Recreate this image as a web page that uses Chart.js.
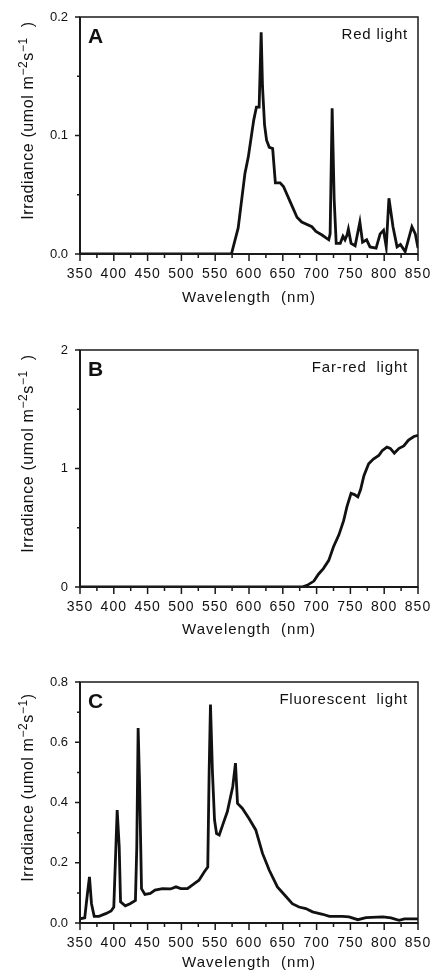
<!DOCTYPE html>
<html>
<head>
<meta charset="utf-8">
<script src="https://cdn.jsdelivr.net/npm/chart.js@4.4.0/dist/chart.umd.min.js"></script>
<style>
html, body { margin: 0; padding: 0; background: #fff; }
.panel { position: absolute; left: 0; width: 432px; }
</style>
</head>
<body>
<div class="panel" style="top:0;height:310px"><canvas id="chartA"></canvas></div>
<div class="panel" style="top:320px;height:320px"><canvas id="chartB"></canvas></div>
<div class="panel" style="top:640px;height:334px"><canvas id="chartC"></canvas></div>
<script>
// wavelength ticks (nm), shared by all three panels
const wlTicks = [350, 400, 450, 500, 550, 600, 650, 700, 750, 800, 850];

// A - red light
const redWl = [350, 574, 584, 594, 599, 607, 611, 615, 618, 620, 623, 626, 630, 635, 639, 646, 651, 661, 671, 678,
  693, 699, 708, 718, 720, 723, 726, 729, 735, 739, 742, 745, 747, 751, 757, 764, 768, 774, 779, 788,
  794, 799, 803, 807, 813, 819, 824, 831, 841, 846, 850];
const redIrr = [0, 0, 0.022, 0.068, 0.082, 0.113, 0.124, 0.124, 0.187, 0.141, 0.109, 0.096, 0.090, 0.089, 0.060, 0.060, 0.057, 0.044, 0.031, 0.027,
  0.023, 0.019, 0.016, 0.012, 0.017, 0.123, 0.046, 0.009, 0.009, 0.015, 0.012, 0.016, 0.021, 0.009, 0.007, 0.027, 0.010, 0.012, 0.006, 0.005,
  0.017, 0.020, 0.006, 0.047, 0.023, 0.006, 0.008, 0.002, 0.023, 0.017, 0.005];
const redTicks = [0, 0.1, 0.2];
const redLabels = ['0.0', '0.1', '0.2'];

// B - far-red light
const farWl = [350, 678, 686, 696, 703, 710, 718, 725, 733, 740, 745, 751, 756, 761, 765, 770, 777, 784, 792, 797,
  804, 809, 815, 822, 829, 836, 844, 850];
const farIrr = [0, 0, 0.014, 0.05, 0.11, 0.155, 0.225, 0.34, 0.44, 0.56, 0.68, 0.79, 0.78, 0.76, 0.82, 0.94, 1.04, 1.08, 1.11, 1.15,
  1.18, 1.17, 1.13, 1.17, 1.19, 1.24, 1.27, 1.28];
const farTicks = [0, 1, 2];
const farLabels = ['0', '1', '2'];

// C - fluorescent light
const fluWl = [350, 357, 361, 364, 367, 371, 378, 388, 396, 400, 405, 408, 410, 417, 424, 432, 434, 436, 438, 441,
  446, 454, 461, 472, 484, 492, 499, 509, 519, 526, 534, 539, 541, 543, 546, 549, 552, 556, 561, 568,
  576, 580, 583, 590, 600, 610, 620, 630, 642, 655, 664, 674, 684, 694, 709, 719, 738, 748, 761, 773,
  798, 810, 822, 830, 850];
const fluIrr = [0.014, 0.017, 0.098, 0.153, 0.064, 0.022, 0.022, 0.031, 0.040, 0.053, 0.375, 0.253, 0.070, 0.057, 0.064, 0.075, 0.253, 0.647, 0.475, 0.114,
  0.095, 0.098, 0.109, 0.114, 0.113, 0.120, 0.114, 0.114, 0.131, 0.142, 0.170, 0.186, 0.497, 0.725, 0.497, 0.342, 0.297, 0.292, 0.325, 0.370,
  0.453, 0.531, 0.397, 0.381, 0.347, 0.309, 0.231, 0.175, 0.120, 0.087, 0.064, 0.053, 0.048, 0.037, 0.029, 0.022, 0.022, 0.020, 0.011, 0.018,
  0.020, 0.017, 0.009, 0.014, 0.014];
const fluTicks = [0, 0.2, 0.4, 0.6, 0.8];
const fluLabels = ['0.0', '0.2', '0.4', '0.6', '0.8'];

const FONT = "'Liberation Sans', Arial, Helvetica, sans-serif";
const INK = '#111';

Chart.defaults.font.family = FONT;
Chart.defaults.color = INK;

// midpoints between major ticks, for the small unlabeled ticks
function halfSteps(arr) {
  const out = [];
  for (let i = 0; i < arr.length - 1; i++) out.push((arr[i] + arr[i + 1]) / 2);
  return out;
}

function drawYTitle(ctx, a, close) {
  const parts = [
    ['Irradiance (umol m', 16, 0],
    ['\u22122', 12, -6],
    ['s', 16, 0],
    ['\u22121', 12, -6],
    [close, 16, 0]
  ];
  ctx.save();
  ctx.letterSpacing = '0.6px';
  ctx.fillStyle = INK;
  ctx.translate(27, (a.top + a.bottom) / 2 - 15);
  ctx.rotate(-Math.PI / 2);
  let total = 0;
  parts.forEach(p => { ctx.font = p[1] + 'px ' + FONT; total += ctx.measureText(p[0]).width; });
  let x = -total / 2;
  ctx.textBaseline = 'alphabetic';
  parts.forEach(p => {
    ctx.font = p[1] + 'px ' + FONT;
    ctx.fillText(p[0], x, 6 + p[2]);
    x += ctx.measureText(p[0]).width;
  });
  ctx.restore();
}

// frame, outward ticks, panel letter, light label, y title
const decor = {
  id: 'decor',
  beforeDraw(chart) { chart.ctx.letterSpacing = '1px'; },
  afterDatasetsDraw(chart) { chart.ctx.letterSpacing = '0px'; },
  afterDraw(chart, args, o) {
    const { ctx, chartArea: a, scales: { x, y } } = chart;
    ctx.save();
    ctx.letterSpacing = '0px';
    ctx.strokeStyle = '#1a1a1a';
    ctx.lineWidth = 1.5;
    ctx.strokeRect(a.left, a.top, a.right - a.left, a.bottom - a.top);
    ctx.lineWidth = 2;
    ctx.beginPath();
    ctx.moveTo(a.left, a.top);
    ctx.lineTo(a.left, a.bottom);
    ctx.lineTo(a.right, a.bottom);
    ctx.stroke();

    ctx.lineWidth = 1.5;
    ctx.beginPath();
    wlTicks.forEach(v => {
      const px = x.getPixelForValue(v);
      ctx.moveTo(px, a.bottom);
      ctx.lineTo(px, a.bottom + 7);
    });
    halfSteps(wlTicks).forEach(v => {
      const px = x.getPixelForValue(v);
      ctx.moveTo(px, a.bottom);
      ctx.lineTo(px, a.bottom + 4);
    });
    o.yTicks.forEach(v => {
      const py = y.getPixelForValue(v);
      ctx.moveTo(a.left, py);
      ctx.lineTo(a.left - 5, py);
    });
    halfSteps(o.yTicks).forEach(v => {
      const py = y.getPixelForValue(v);
      ctx.moveTo(a.left, py);
      ctx.lineTo(a.left - 3, py);
    });
    ctx.stroke();

    ctx.fillStyle = INK;
    ctx.textBaseline = 'alphabetic';
    ctx.font = 'bold 21px ' + FONT;
    ctx.textAlign = 'left';
    ctx.fillText(o.letter, a.left + 8, a.top + 26);

    ctx.font = '15px ' + FONT;
    ctx.letterSpacing = '0.8px';
    ctx.textAlign = 'right';
    ctx.fillText(o.note, a.right - 10, a.top + 22);
    ctx.restore();

    drawYTitle(ctx, a, o.close);
  }
};

function makePanel(id, wl, irr, cfg) {
  const ctx = document.getElementById(id).getContext('2d');
  return new Chart(ctx, {
    type: 'line',
    data: {
      datasets: [{
        data: wl.map((w, i) => ({ x: w, y: irr[i] })),
        borderColor: INK,
        borderWidth: 2.8,
        pointRadius: 0,
        tension: 0,
        fill: false
      }]
    },
    options: {
      responsive: true,
      maintainAspectRatio: false,
      animation: false,
      layout: { padding: { top: cfg.top, right: 14, left: 0, bottom: 0 } },
      plugins: {
        legend: { display: false },
        tooltip: { enabled: false },
        decor: { letter: cfg.letter, note: cfg.note, close: cfg.close, yTicks: cfg.yTicks }
      },
      scales: {
        x: {
          type: 'linear',
          min: 350,
          max: 850,
          afterBuildTicks: s => { s.ticks = wlTicks.map(v => ({ value: v })); },
          afterFit: s => { s.height = cfg.xh; s.paddingLeft = 0; s.paddingRight = 0; },
          grid: { display: false, drawTicks: false },
          border: { display: false },
          ticks: { padding: 12, autoSkip: false, maxRotation: 0, font: { size: 14 } },
          title: { display: true, text: 'Wavelength  (nm)', font: { size: 15 }, padding: { top: 0, bottom: cfg.tb } }
        },
        y: {
          min: 0,
          max: cfg.yTicks[cfg.yTicks.length - 1],
          afterBuildTicks: s => { s.ticks = cfg.yTicks.map(v => ({ value: v })); },
          afterFit: s => { s.width = 80; s.paddingTop = 0; s.paddingBottom = 0; },
          grid: { display: false, drawTicks: false },
          border: { display: false },
          ticks: { padding: 12, z: 1, font: { size: 13 }, callback: (v, i) => cfg.yLabels[i] }
        }
      }
    },
    plugins: [decor]
  });
}

makePanel('chartA', redWl, redIrr, { top: 17, xh: 56, tb: 3, letter: 'A', note: 'Red light', close: '  )', yTicks: redTicks, yLabels: redLabels });
makePanel('chartB', farWl, farIrr, { top: 30, xh: 53, tb: 1, letter: 'B', note: 'Far-red  light', close: '  )', yTicks: farTicks, yLabels: farLabels });
makePanel('chartC', fluWl, fluIrr, { top: 42, xh: 51, tb: 2, letter: 'C', note: 'Fluorescent  light', close: ')', yTicks: fluTicks, yLabels: fluLabels });
</script>
</body>
</html>
